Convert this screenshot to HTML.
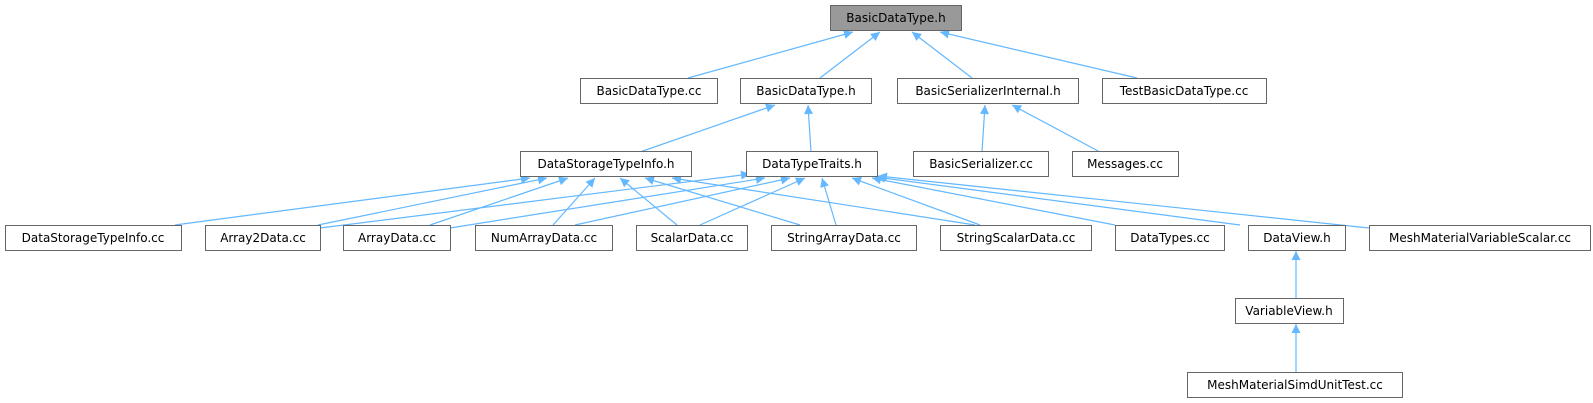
<!DOCTYPE html>
<html><head><meta charset="utf-8"><style>
html,body{margin:0;padding:0;background:#fff;}
svg{display:block;}
text{font-family:"DejaVu Sans","Liberation Sans",sans-serif;font-size:12px;fill:#000;}
</style></head><body>
<svg width="1593" height="403" viewBox="0 0 1593 403" xmlns="http://www.w3.org/2000/svg">
<defs>
<marker id="a" viewBox="0 0 10 10" refX="10" refY="5" markerWidth="10" markerHeight="9" markerUnits="userSpaceOnUse" orient="auto">
<path d="M0,0 L10,5 L0,10 z" fill="#63b8ff"/>
</marker>
</defs>
<g stroke="#63b8ff" stroke-width="1.2" fill="none" marker-end="url(#a)">
<line x1="688" y1="78" x2="853" y2="32"/>
<line x1="820" y1="78" x2="880" y2="32"/>
<line x1="972" y1="78" x2="912" y2="32"/>
<line x1="1137" y1="78" x2="940" y2="32"/>
<line x1="640" y1="152" x2="775" y2="105"/>
<line x1="811" y1="152" x2="808" y2="105"/>
<line x1="982" y1="152" x2="985" y2="105"/>
<line x1="1100" y1="152" x2="1012" y2="105"/>
<line x1="175" y1="225" x2="530" y2="178"/>
<line x1="318" y1="225" x2="547" y2="178"/>
<line x1="430" y1="225" x2="568" y2="178"/>
<line x1="553" y1="225" x2="595" y2="178"/>
<line x1="677" y1="225" x2="620" y2="178"/>
<line x1="800" y1="225" x2="645" y2="178"/>
<line x1="975" y1="225" x2="672" y2="178"/>
<line x1="320" y1="228" x2="750" y2="174"/>
<line x1="450" y1="228" x2="765" y2="178"/>
<line x1="575" y1="225" x2="790" y2="178"/>
<line x1="700" y1="225" x2="805" y2="178"/>
<line x1="836" y1="225" x2="822" y2="178"/>
<line x1="980" y1="225" x2="852" y2="178"/>
<line x1="1115" y1="225" x2="872" y2="178"/>
<line x1="1240" y1="225" x2="876" y2="177"/>
<line x1="1369" y1="228" x2="878" y2="176"/>
<line x1="1296" y1="298" x2="1296" y2="251"/>
<line x1="1296" y1="372" x2="1296" y2="324"/>
</g>
<g stroke="#666" stroke-width="1" fill="#fff">
<rect x="830.5" y="5.5" width="131" height="25" fill="#999"/>
<rect x="580.5" y="78.5" width="137" height="25"/>
<rect x="740.5" y="78.5" width="131" height="25"/>
<rect x="897.5" y="78.5" width="181" height="25"/>
<rect x="1102.5" y="78.5" width="164" height="25"/>
<rect x="520.5" y="151.5" width="171" height="25"/>
<rect x="746.5" y="151.5" width="131" height="25"/>
<rect x="913.5" y="151.5" width="135" height="25"/>
<rect x="1072.5" y="151.5" width="106" height="25"/>
<rect x="5.5" y="225.5" width="176" height="25"/>
<rect x="205.5" y="225.5" width="115" height="25"/>
<rect x="343.5" y="225.5" width="107" height="25"/>
<rect x="475.5" y="225.5" width="137" height="25"/>
<rect x="636.5" y="225.5" width="111" height="25"/>
<rect x="771.5" y="225.5" width="145" height="25"/>
<rect x="940.5" y="225.5" width="151" height="25"/>
<rect x="1115.5" y="225.5" width="109" height="25"/>
<rect x="1248.5" y="225.5" width="97" height="25"/>
<rect x="1369.5" y="225.5" width="221" height="25"/>
<rect x="1235.5" y="298.5" width="108" height="25"/>
<rect x="1187.5" y="372.5" width="215" height="25"/>
</g>
<g text-anchor="middle">
<text x="896" y="22">BasicDataType.h</text>
<text x="649" y="95">BasicDataType.cc</text>
<text x="806" y="95">BasicDataType.h</text>
<text x="988" y="95">BasicSerializerInternal.h</text>
<text x="1184" y="95">TestBasicDataType.cc</text>
<text x="606" y="168">DataStorageTypeInfo.h</text>
<text x="812" y="168">DataTypeTraits.h</text>
<text x="981" y="168">BasicSerializer.cc</text>
<text x="1125" y="168">Messages.cc</text>
<text x="93" y="242">DataStorageTypeInfo.cc</text>
<text x="263" y="242">Array2Data.cc</text>
<text x="397" y="242">ArrayData.cc</text>
<text x="544" y="242">NumArrayData.cc</text>
<text x="692" y="242">ScalarData.cc</text>
<text x="844" y="242">StringArrayData.cc</text>
<text x="1016" y="242">StringScalarData.cc</text>
<text x="1170" y="242">DataTypes.cc</text>
<text x="1297" y="242">DataView.h</text>
<text x="1480" y="242">MeshMaterialVariableScalar.cc</text>
<text x="1289" y="315">VariableView.h</text>
<text x="1295" y="389">MeshMaterialSimdUnitTest.cc</text>
</g>
</svg>
</body></html>
